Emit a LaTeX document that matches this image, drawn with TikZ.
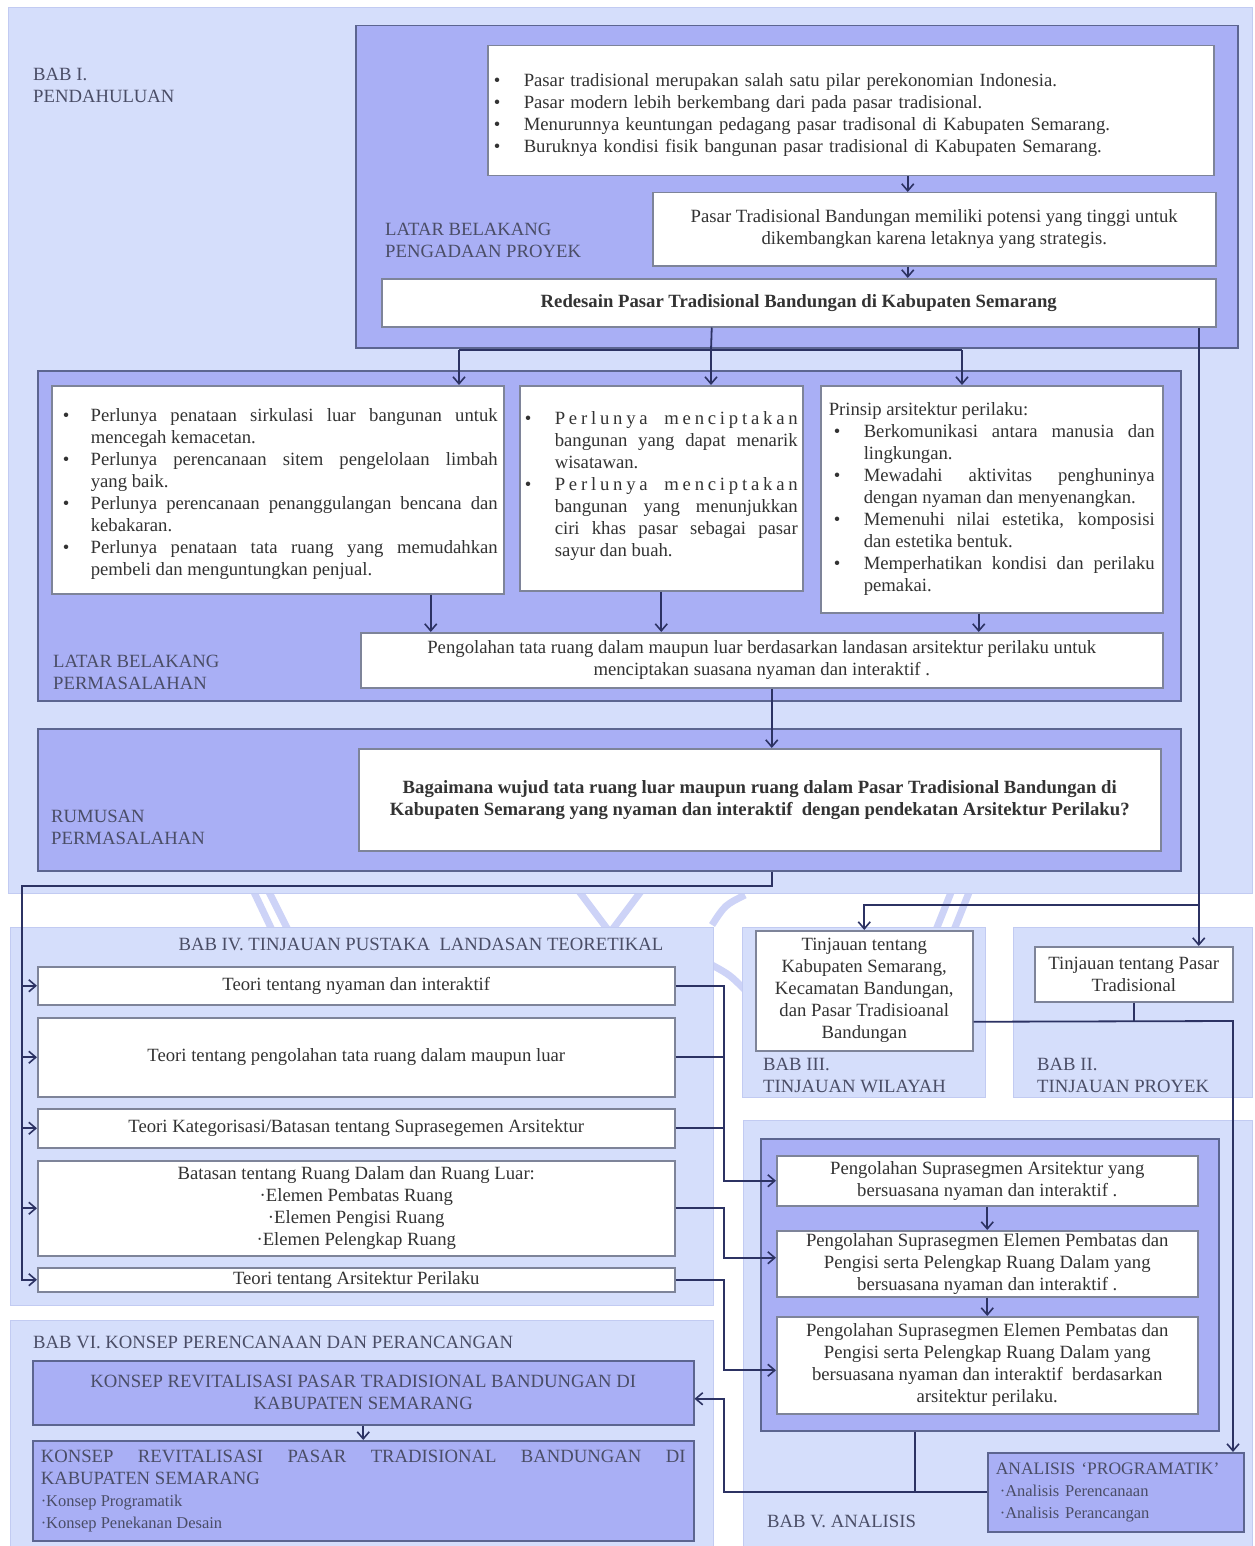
\documentclass[tikz,border=0pt]{standalone}
\usepackage{fontspec}
\setmainfont{Liberation Serif}
\usetikzlibrary{arrows.meta,calc}
\definecolor{panelc}{HTML}{D5DEFB}
\definecolor{paneld}{HTML}{C2CBF2}
\definecolor{purp}{HTML}{A9AFF5}
\definecolor{purpd}{HTML}{5C6590}
\definecolor{wboxd}{HTML}{7E8499}
\definecolor{txt}{HTML}{333333}
\definecolor{lbl}{HTML}{4A4D66}
\definecolor{conc}{HTML}{2C3263}
\definecolor{wmark}{HTML}{CDD3F7}
\hyphenpenalty=10000
\exhyphenpenalty=10000
\newcommand\bitem[3]{\par\noindent\hangindent=#1\relax\hangafter=1\makebox[#1][l]{\hspace{#2}\textbullet}#3\par}
\newcommand\spreadword{\hbox to 243pt{P\hfill e\hfill r\hfill l\hfill u\hfill n\hfill y\hfill a\hfill\hskip 9pt\hfill m\hfill e\hfill n\hfill c\hfill i\hfill p\hfill t\hfill a\hfill k\hfill a\hfill n}}
\tikzset{
  panel/.style={draw=paneld, fill=panelc, line width=1pt},
  pbox/.style={draw=purpd, fill=purp, line width=1.5pt, anchor=north west, inner ysep=2pt, text=txt},
  wbox/.style={draw=wboxd, fill=white, line width=1.5pt, anchor=north west, inner ysep=2pt, text=txt},
  conn/.style={draw=conc, line width=1.8pt, -{Straight Barb[length=7pt,width=12pt,line width=1.6pt]}},
  plain/.style={draw=conc, line width=1.8pt},
  lab/.style={text=lbl, align=left, inner sep=0pt, anchor=north west},
  wm/.style={draw=wmark, line width=7pt},
  every node/.style={font=\fontsize{18.7}{22}\selectfont}
}
\begin{document}
\begin{tikzpicture}[x=1pt,y=-1pt]
\useasboundingbox (0,0) rectangle (1254,1546);
\fill[white] (0,0) rectangle (1254,1546);
% watermark traces
\draw[wm] (253,890) -- (272,930);
\draw[wm] (268,890) -- (288,930);
\draw[wm] (578,890) -- (608,930);
\draw[wm] (642,890) -- (612,930);
\draw[wm] (745,895) .. controls (725,905) .. (712,925);
\draw[wm] (712,965) .. controls (730,975) .. (745,990);
\draw[wm] (952,890) -- (936,930);
\draw[wm] (970,890) -- (954,930);
% panels
\path[panel] (8,8) rectangle (1252,893);
\path[panel] (10,927) rectangle (713,1305);
\path[panel] (742,927) rectangle (985,1097);
\path[panel] (1013,927) rectangle (1252,1097);
\path[panel] (743,1120) rectangle (1252,1546);
\path[panel] (10,1320) rectangle (713,1546);

\node[lab] (bab1) at (33,68) {BAB I.\\PENDAHULUAN};

% pengadaan
\node[pbox, minimum width=882pt, minimum height=322pt] (pengadaan) at (355,25) {};
\node[lab] (lbpp) at (385,223) {LATAR BELAKANG\\PENGADAAN PROYEK};
\node[wbox, minimum width=726pt, minimum height=130pt, inner xsep=6pt, text width=714pt, align=left] (top) at (487,45) {%
\bitem{30pt}{0pt}{Pasar tradisional merupakan salah satu pilar perekonomian Indonesia.}%
\bitem{30pt}{0pt}{Pasar modern lebih berkembang dari pada pasar tradisional.}%
\bitem{30pt}{0pt}{Menurunnya keuntungan pedagang pasar tradisonal di Kabupaten Semarang.}%
\bitem{30pt}{0pt}{Buruknya kondisi fisik bangunan pasar tradisional di Kabupaten Semarang.}};
\node[wbox, minimum width=563pt, minimum height=73pt, align=center] (potensi) at (652,192) {Pasar Tradisional Bandungan memiliki potensi yang tinggi untuk\\dikembangkan karena letaknya yang strategis.};
\node[wbox, minimum width=834pt, minimum height=48pt, font=\fontsize{18.7}{22}\selectfont\bfseries] (redesain) at (381,278) {Redesain Pasar Tradisional Bandungan di Kabupaten Semarang};

% permasalahan
\node[pbox, minimum width=1143pt, minimum height=330pt] (lbp) at (37,370) {};
\node[lab] (lbpl) at (53,655) {LATAR BELAKANG\\PERMASALAHAN};
\node[wbox, minimum width=452pt, minimum height=208pt, inner xsep=6pt, text width=440pt, align=justify] (A) at (51,385) {%
\bitem{33pt}{5pt}{Perlunya penataan sirkulasi luar bangunan untuk\linebreak mencegah kemacetan.}%
\bitem{33pt}{5pt}{Perlunya perencanaan sitem pengelolaan limbah\linebreak yang baik.}%
\bitem{33pt}{5pt}{Perlunya perencanaan penanggulangan bencana dan\linebreak kebakaran.}%
\bitem{33pt}{5pt}{Perlunya penataan tata ruang yang memudahkan\linebreak pembeli dan menguntungkan penjual.}};
\node[wbox, minimum width=283pt, minimum height=205pt, inner xsep=5pt, text width=273pt, align=justify] (B) at (519,385) {%
\bitem{30pt}{0pt}{\spreadword\linebreak bangunan yang dapat menarik\linebreak wisatawan.}%
\bitem{30pt}{0pt}{\spreadword\linebreak bangunan yang menunjukkan\linebreak ciri khas pasar sebagai pasar\linebreak sayur dan buah.}\vspace*{14pt}};
\node[wbox, minimum width=342pt, minimum height=227pt, inner xsep=8pt, text width=326pt, align=justify] (C) at (820,385) {%
\noindent Prinsip arsitektur perilaku:\par
\bitem{35pt}{5pt}{Berkomunikasi antara manusia dan\linebreak lingkungan.}%
\bitem{35pt}{5pt}{Mewadahi aktivitas penghuninya\linebreak dengan nyaman dan menyenangkan.}%
\bitem{35pt}{5pt}{Memenuhi nilai estetika, komposisi\linebreak dan estetika bentuk.}%
\bitem{35pt}{5pt}{Memperhatikan kondisi dan perilaku\linebreak pemakai.}};
\node[wbox, minimum width=802pt, minimum height=55pt, align=center] (peng) at (360,632) {Pengolahan tata ruang dalam maupun luar berdasarkan landasan arsitektur perilaku untuk\\menciptakan suasana nyaman dan interaktif .};

% rumusan
\node[pbox, minimum width=1143pt, minimum height=142pt] (rum) at (37,728) {};
\node[lab] (ruml) at (51,810) {RUMUSAN\\PERMASALAHAN};
\node[wbox, minimum width=802pt, minimum height=102pt, align=center, font=\fontsize{18.7}{22}\selectfont\bfseries] (rumw) at (358,748) {Bagaimana wujud tata ruang luar maupun ruang dalam Pasar Tradisional Bandungan di\\Kabupaten Semarang yang nyaman dan interaktif \ dengan pendekatan Arsitektur Perilaku?};

% BAB IV
\node[text=lbl, inner sep=0pt] (bab4) at (421,944) {BAB IV. TINJAUAN PUSTAKA \ LANDASAN TEORETIKAL};
\node[wbox, minimum width=637pt, minimum height=38pt] (T1) at (37,966) {Teori tentang nyaman dan interaktif};
\node[wbox, minimum width=637pt, minimum height=79pt] (T2) at (37,1017) {Teori tentang pengolahan tata ruang dalam maupun luar};
\node[wbox, minimum width=637pt, minimum height=39pt] (T3) at (37,1108) {Teori Kategorisasi/Batasan tentang Suprasegemen Arsitektur};
\node[wbox, minimum width=637pt, minimum height=95pt, align=center] (T4) at (37,1160) {Batasan tentang Ruang Dalam dan Ruang Luar:\\·Elemen Pembatas Ruang\\·Elemen Pengisi Ruang\\·Elemen Pelengkap Ruang};
\node[wbox, minimum width=637pt, minimum height=24pt, inner ysep=0pt] (T5) at (37,1267) {Teori tentang Arsitektur Perilaku};

% BAB III / II
\node[wbox, minimum width=217pt, minimum height=120pt, align=center, inner ysep=0pt] (W) at (755,930) {\rule{0pt}{12pt}Tinjauan tentang\\Kabupaten Semarang,\\Kecamatan Bandungan,\\dan Pasar Tradisioanal\\Bandungan};
\node[lab] (bab3) at (763,1058) {BAB III.\\TINJAUAN WILAYAH};
\node[wbox, minimum width=198pt, minimum height=55pt, align=center, inner ysep=0pt] (PT) at (1034,946) {Tinjauan tentang Pasar\\Tradisional};
\node[lab] (bab2) at (1037,1058) {BAB II.\\TINJAUAN PROYEK};

% BAB V
\node[pbox, minimum width=458pt, minimum height=292pt] (inner) at (760,1138) {};
\node[wbox, minimum width=421pt, minimum height=50pt, align=center, inner ysep=0pt] (P1) at (776,1155) {Pengolahan Suprasegmen Arsitektur yang\\bersuasana nyaman dan interaktif .};
\node[wbox, minimum width=421pt, minimum height=66pt, align=center, inner ysep=0pt] (P2) at (776,1230) {Pengolahan Suprasegmen Elemen Pembatas dan\\Pengisi serta Pelengkap Ruang Dalam yang\\bersuasana nyaman dan interaktif .};
\node[wbox, minimum width=421pt, minimum height=97pt, align=center, inner ysep=0pt] (P3) at (776,1316) {Pengolahan Suprasegmen Elemen Pembatas dan\\Pengisi serta Pelengkap Ruang Dalam yang\\bersuasana nyaman dan interaktif \ berdasarkan\\arsitektur perilaku.};
\node[pbox, minimum width=256pt, minimum height=79pt, inner xsep=7pt, text width=240pt, align=left, inner ysep=0pt, text=lbl, font=\fontsize{17.5}{22}\selectfont] (anal) at (987,1452) {\rule{0pt}{10pt}ANALISIS `PROGRAMATIK'\\\hspace*{4pt}{\fontsize{16.5}{22}\selectfont ·Analisis Perencanaan}\\\hspace*{4pt}{\fontsize{16.5}{22}\selectfont ·Analisis Perancangan}};
\node[lab, anchor=west] (bab5) at (767,1521) {BAB V. ANALISIS};

% BAB VI
\node[lab] (bab6) at (33,1336) {BAB VI. KONSEP PERENCANAAN DAN PERANCANGAN};
\node[pbox, minimum width=661pt, minimum height=64pt, align=center, inner ysep=0pt, text=lbl] (K1) at (32,1360) {KONSEP REVITALISASI PASAR TRADISIONAL BANDUNGAN DI\\KABUPATEN SEMARANG};
\node[pbox, minimum width=661pt, minimum height=100pt, inner xsep=8pt, text width=645pt, align=justify, inner ysep=0pt, text=lbl] (K2) at (32,1440) {KONSEP REVITALISASI PASAR TRADISIONAL BANDUNGAN DI\linebreak KABUPATEN SEMARANG\par{\fontsize{16.5}{22}\selectfont ·Konsep Programatik\par ·Konsep Penekanan Desain\par}};

% connectors: top part
\draw[conn] ([xshift=57pt]top.south) -- ([xshift=57pt]top.south |- potensi.north);
\draw[conn] ([xshift=-26.5pt]potensi.south) -- ([xshift=-26.5pt]potensi.south |- redesain.north);
\coordinate (split) at (711,350);
\coordinate (brA) at (459,350);
\coordinate (brC) at (962,350);
\draw[plain] ([xshift=-87pt]redesain.south) -- (split);
\draw[plain] (brA) -- (brC);
\draw[conn] (brA) -- (brA |- A.north);
\draw[conn] (split) -- (split |- B.north);
\draw[conn] (brC) -- (brC |- C.north);
\draw[conn] ([xshift=153pt]A.south) -- ([xshift=153pt]A.south |- peng.north);
\draw[conn] (B.south) -- (B.south |- peng.north);
\draw[conn] ([xshift=-13pt]C.south) -- ([xshift=-13pt]C.south |- peng.north);
\draw[conn] ([xshift=10pt]peng.south) -- ([xshift=10pt]peng.south |- rumw.north);

% to BAB IV
\coordinate (lft) at (22,886);
\draw[conn] ([xshift=162.5pt]rum.south) |- (lft) -- (lft |- T5.west) -- (T5.west);
\draw[conn] (lft |- T1.west) -- (T1.west);
\draw[conn] (lft |- T2.west) -- (T2.west);
\draw[conn] (lft |- T3.west) -- (T3.west);
\draw[conn] (lft |- T4.west) -- (T4.west);

% to BAB III / II
\coordinate (rbr) at (1198,905);
\draw[conn] ([xshift=400pt]redesain.south) -- ([xshift=400pt]redesain.south |- PT.north);
\draw[conn] (rbr) -| (W.north);
\coordinate (ra) at (1233,1021);
\draw[conn] ([yshift=-31pt]W.east) -- (ra) -- (ra |- anal.north);
\draw[plain] (PT.south) -- (PT.south |- ra);

% BAB IV -> BAB V
\coordinate (vx) at (724,0);
\coordinate (p2in) at ([yshift=6pt]P2.west);
\coordinate (p3in) at ([yshift=-5pt]P3.west);
\draw[conn] (T1.east) -| (vx |- P1.west) -- (P1.west);
\draw[plain] (T2.east) -- (T2.east -| vx);
\draw[plain] (T3.east) -- (T3.east -| vx);
\draw[conn] (T4.east) -| (vx |- p2in) -- (p2in);
\draw[conn] (T5.east) -| (vx |- p3in) -- (p3in);
\draw[conn] (P1.south) -- (P2.north);
\draw[conn] (P2.south) -- (P3.north);

% BAB V -> BAB VI
\draw[plain] ([xshift=-75pt]inner.south) -- ([xshift=-75pt]inner.south |- anal.west);
\coordinate (k1in) at ([yshift=-6pt]K1.east);
\draw[conn] (anal.west) -| (k1in -| vx) -- (k1in);
\draw[conn] (K1.south) -- (K2.north);
\end{tikzpicture}
\end{document}
